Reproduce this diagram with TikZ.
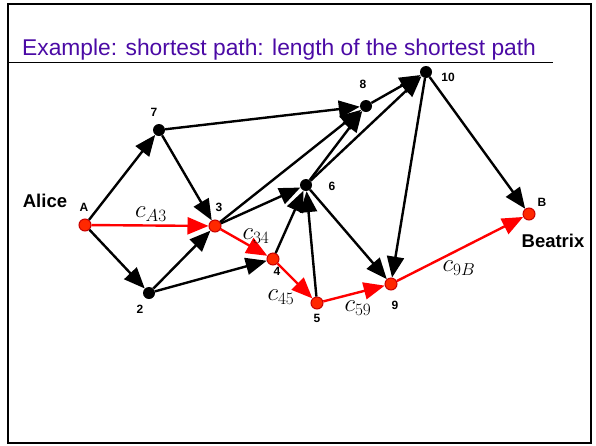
\documentclass[tikz,border=0pt]{standalone}
\usepackage{fontspec}
\setmainfont{Liberation Sans}
\usetikzlibrary{arrows.meta}
\definecolor{titlepurple}{RGB}{75,10,165}
\definecolor{nodered}{RGB}{255,40,0}
\definecolor{darkred}{RGB}{200,0,0}
\tikzset{
  blk/.style={circle,fill=black,inner sep=0pt,minimum size=12pt},
  rednode/.style={circle,fill=nodered,draw=darkred,line width=1pt,inner sep=0pt,minimum size=12pt},
  edge/.style={line width=2.4pt,-{Triangle[length=21pt,width=17pt]}},
  redge/.style={edge,red},
  num/.style={font=\fontsize{12}{14}\selectfont\bfseries,inner sep=1pt},
  big/.style={font=\fontsize{18.5}{22}\selectfont\bfseries},
  clabel/.style={font=\fontsize{25}{29}\selectfont,inner sep=0pt}
}
\begin{document}
\begin{tikzpicture}[x=1pt,y=-1pt]
\useasboundingbox (0,0) rectangle (596,445);
\draw[line width=1.5pt] (8,4) rectangle (591,443);
\draw[line width=1pt] (8,62) -- (553,62);
\node[anchor=base west,text=titlepurple,font=\fontsize{22.8}{26}\selectfont,inner sep=0pt] (title) at (22,55) {Example: shortest path: length of the shortest path};

\node[rednode] (A) at (85,225) {};
\node[blk] (n7) at (159,130) {};
\node[blk] (n2) at (149,293) {};
\node[rednode] (n3) at (215,226) {};
\node[rednode] (n4) at (273,259) {};
\node[rednode] (n5) at (317,303) {};
\node[blk] (n6) at (306,185) {};
\node[blk] (n8) at (366,106) {};
\node[blk] (n10) at (426,72) {};
\node[rednode] (n9) at (391,284) {};
\node[rednode] (B) at (529,214) {};

\node[num] (lA) at (84,207) {A};
\node[num] (l7) at (154,112) {7};
\node[num] (l2) at (140,309) {2};
\node[num] (l3) at (219,207) {3};
\node[num] (l4) at (277,271) {4};
\node[num] (l5) at (317,318) {5};
\node[num] (l6) at (332,186) {6};
\node[num] (l8) at (363,84) {8};
\node[num] (l10) at (448,77) {10};
\node[num] (l9) at (395,305) {9};
\node[num] (lB) at (542,202) {B};
\node[big] (alice) at (45,201) {Alice};
\node[big] (beatrix) at (553,241) {Beatrix};

\draw[edge] (A) -- (n7);
\draw[edge] (A) -- (n2);
\draw[edge] (n7) -- (n3);
\draw[edge] (n7) -- (n8);
\draw[edge] (n2) -- (n3);
\draw[edge] (n2) -- (n4);
\draw[edge] (n3) -- (n8);
\draw[edge] (n3) -- (n6);
\draw[edge] (n4) -- (n6);
\draw[edge] (n5) -- (n6);
\draw[edge] (n6) -- (n8);
\draw[edge] (n6) -- (n10);
\draw[edge] (n8) -- (n10);
\draw[edge] (n6) -- (n9);
\draw[edge] (n10) -- (n9);
\draw[edge] (n10) -- (B);
\draw[redge] (A) -- (n3);
\draw[redge] (n3) -- (n4);
\draw[redge] (n4) -- (n5);
\draw[redge] (n5) -- (n9);
\draw[redge] (n9) -- (B);

\node[clabel] (cA3) at (151,214) {$c_{A3}$};
\node[clabel] (c34) at (256,236) {$c_{34}$};
\node[clabel] (c45) at (281,297) {$c_{45}$};
\node[clabel] (c59) at (358,308) {$c_{59}$};
\node[clabel] (c9B) at (459,268) {$c_{9B}$};
\end{tikzpicture}
\end{document}
